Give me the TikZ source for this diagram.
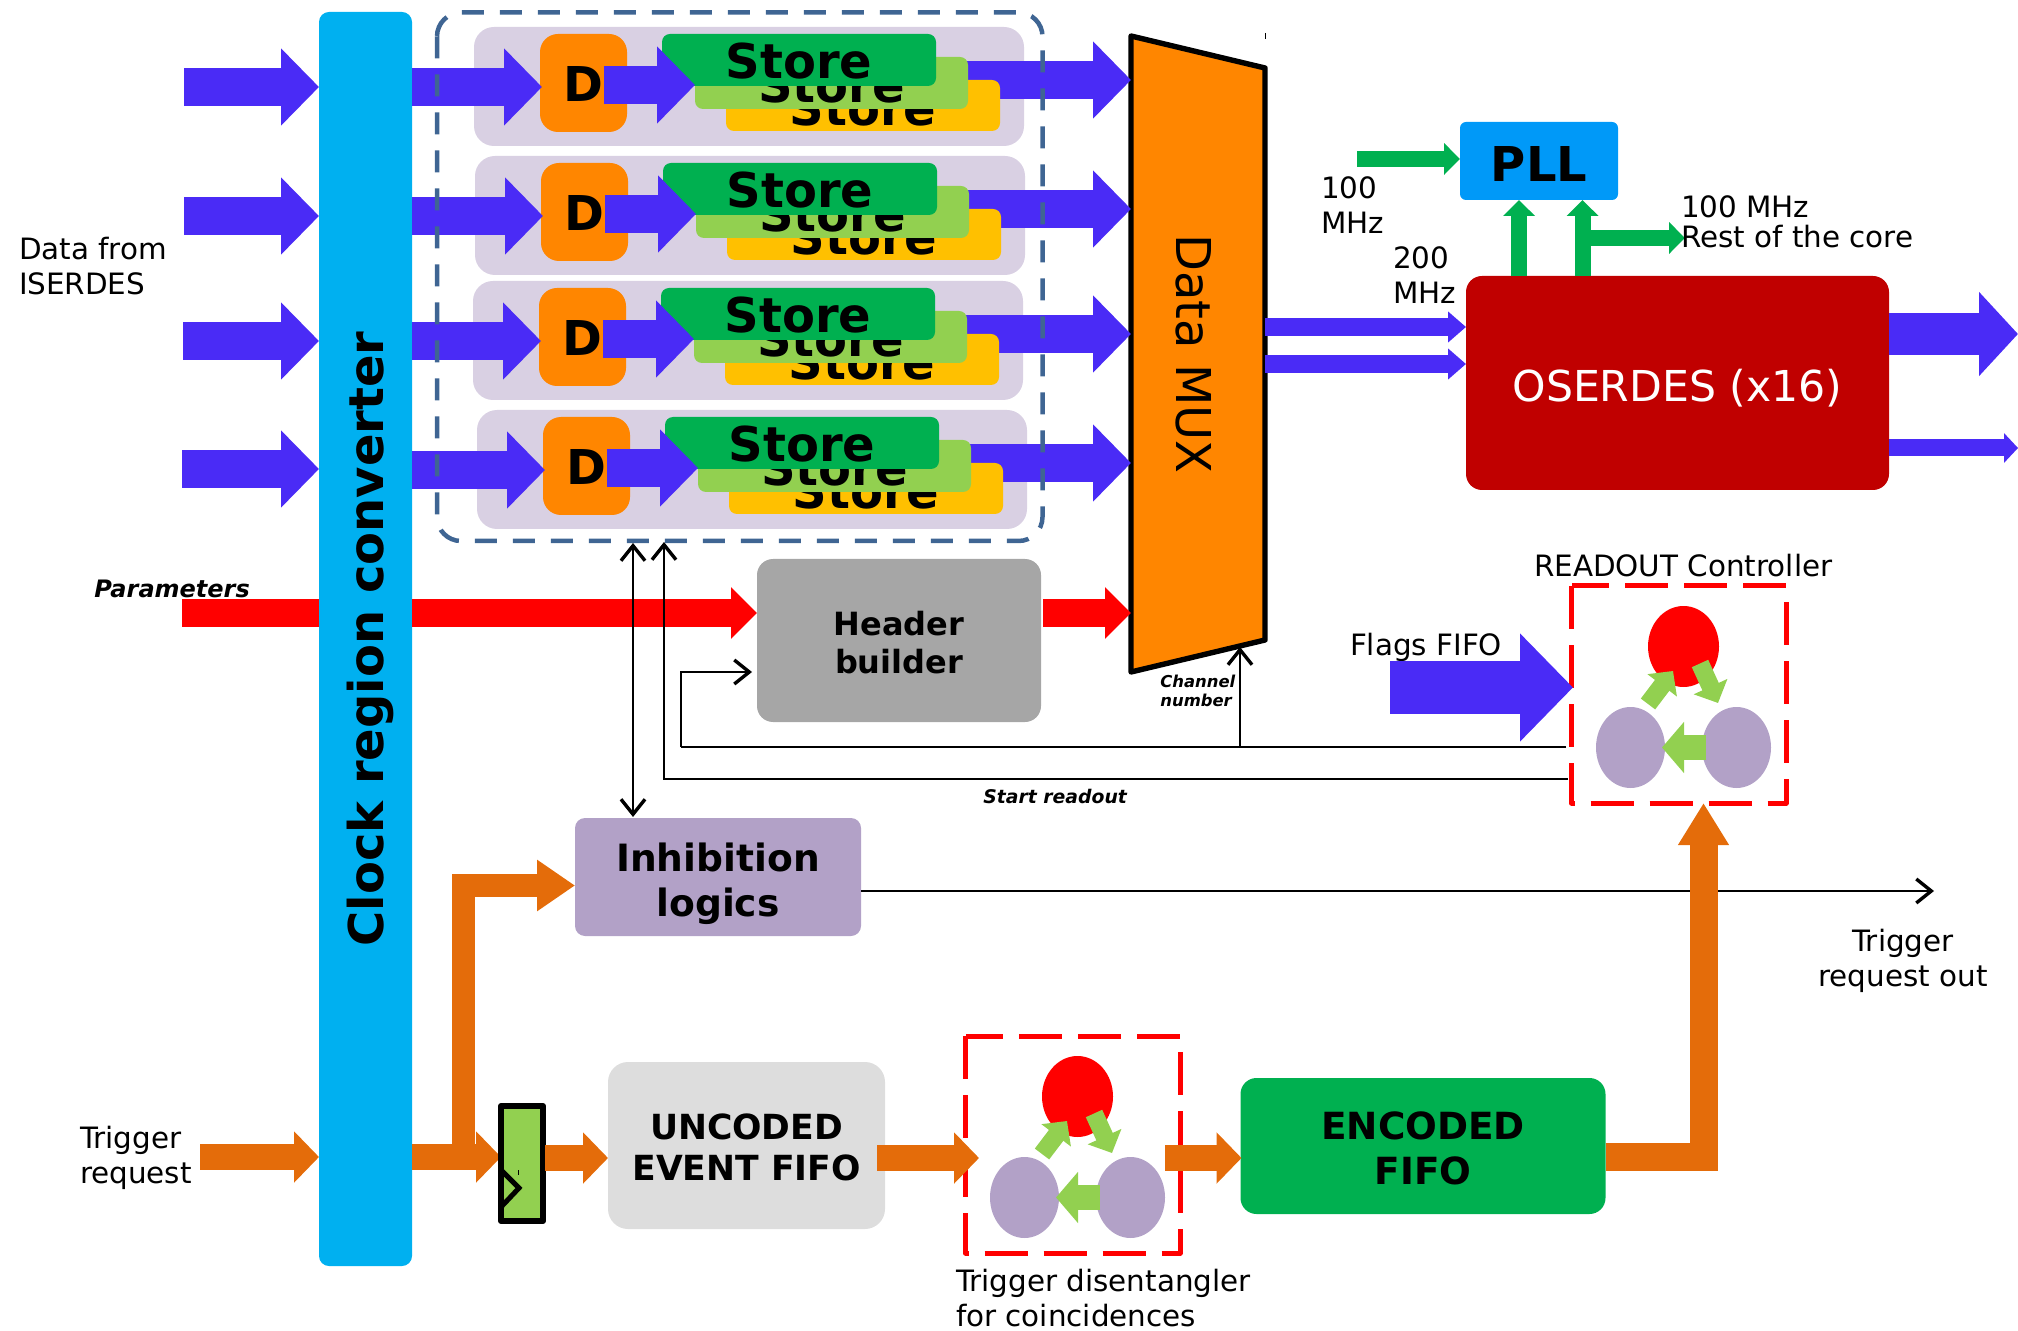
\documentclass[tikz,border=0pt]{standalone}
\usepackage{fontspec}
\usepackage{graphicx}
\setmainfont{DejaVu Sans}
\usetikzlibrary{arrows.meta}
\definecolor{cclk}{HTML}{00B0F0}
\definecolor{clav}{HTML}{D9D0E3}
\definecolor{corg}{HTML}{FF8600}
\definecolor{cgrn}{HTML}{00B050}
\definecolor{clgr}{HTML}{92D050}
\definecolor{cyel}{HTML}{FFC000}
\definecolor{cblu}{HTML}{4A2BF6}
\definecolor{cdash}{HTML}{3F6593}
\definecolor{cgry}{HTML}{A6A6A6}
\definecolor{clgy}{HTML}{DDDDDD}
\definecolor{cpur}{HTML}{B2A1C7}
\definecolor{cdrd}{HTML}{C00000}
\definecolor{cpll}{HTML}{0099F8}
\definecolor{ctan}{HTML}{E46C0A}
\newcommand{\fnt}[2]{\fontsize{#1}{#2}\selectfont}
\tikzset{
  wh/.style 2 args={minimum width=#1*0.5pt,minimum height=#2*0.5pt,inner sep=0pt,outer sep=0pt},
  blk/.style={fill=#1,draw=none},
  storebox/.style={blk=#1,rounded corners=4pt,font=\bfseries\fnt{24}{28}},
  lab/.style={inner sep=0pt,outer sep=0pt,align=left,font=\fnt{14.7}{17.5}},
  fatblue/.style={draw=cblu,line width=19pt,-{Triangle[length=19pt,width=37.5pt]}},
  midblue/.style={draw=cblu,line width=9pt,-{Triangle[length=9pt,width=15pt]}},
  flagblue/.style={draw=cblu,line width=26.5pt,-{Triangle[length=26.5pt,width=52.5pt]}},
  outblue/.style={draw=cblu,line width=21pt,-{Triangle[length=19.5pt,width=41pt]}},
  outsmall/.style={draw=cblu,line width=8.5pt,-{Triangle[length=7pt,width=14.5pt]}},
  redarrow/.style={draw=red,line width=13.5pt,-{Triangle[length=13pt,width=25pt]}},
  orarrow/.style={draw=ctan,line width=13pt,-{Triangle[length=12.5pt,width=25pt]}},
  orbend/.style={draw=ctan,line width=11.5pt,-{Triangle[length=19pt,width=24.5pt]}},
  ortall/.style={draw=ctan,line width=14pt,-{Triangle[length=21pt,width=24pt]}},
  grarrow/.style={draw=cgrn,line width=8pt,-{Triangle[length=8pt,width=15.5pt]}},
  fsmshort/.style={draw=clgr,line width=9pt,-{Triangle[length=9pt,width=18pt]}},
  fsmlong/.style={draw=clgr,line width=12.5pt,-{Triangle[length=11pt,width=25pt]}},
  thin/.style={draw=black,line width=1pt,-{Straight Barb[length=7.5pt,width=12pt,line width=1.7pt]}},
  thinboth/.style={draw=black,line width=1pt,{Straight Barb[length=7.5pt,width=12pt,line width=1.7pt]}-{Straight Barb[length=7.5pt,width=12pt,line width=1.7pt]}},
  thinline/.style={draw=black,line width=1pt},
  reddash/.style={draw=red,line width=2.5pt,dash pattern=on 21.5pt off 8pt,line join=round},
}
\newcommand{\storerow}[3]{%
  \begin{scope}[shift={(#2,#3)}]
    \node[wh={550}{119},blk=clav,rounded corners=10pt] (lav#1) at (749,86.5) {};
    \node[wh={87}{98},blk=corg,rounded corners=9pt,font=\bfseries\fnt{24}{28},text height=18.8pt,text depth=0pt] (d#1) at (583.5,83) {D};
    \draw[fatblue,shorten >=-1pt] (clk.east |- 0,87) -- (d#1.west |- 0,87);
    \coordinate (ds#1) at (604,85);
    \coordinate (de#1) at (695,85);
    \coordinate (ss#1) at (960,80);
    \draw[fatblue] (ss#1) -- (mux.west |- 0,80);
    \node[wh={274}{51},storebox=cyel,text height=20.5pt,text depth=0pt] (sy#1) at (863,105.5) {Store};
    \node[wh={273}{52},storebox=clgr,text height=20pt,text depth=0pt] (sl#1) at (831.5,83) {Store};
    \node[wh={274}{52},storebox=cgrn,text height=18.8pt,text depth=0pt] (sg#1) at (799,60) {Store};
    \draw[fatblue] (ds#1) -- (de#1);
  \end{scope}}
\newcommand{\fsmgroup}[2]{%
  \begin{scope}[shift={(#1,#2)}]
    \draw[reddash] (1571.5,586) rectangle (1786,803);
    \fill[red] (1683.5,646.5) ellipse [x radius=35.5,y radius=40.5];
    \fill[cpur] (1630.5,747.5) ellipse [x radius=34.5,y radius=40.5];
    \fill[cpur] (1736.5,747.5) ellipse [x radius=34.5,y radius=40.5];
    \draw[fsmshort] (1648,704) -- (1673,671);
    \draw[fsmshort] (1700,663.5) -- (1718,703);
    \draw[fsmlong] (1706,747.5) -- (1662,747.5);
  \end{scope}}
\begin{document}
\begin{tikzpicture}[x=0.5pt,y=-0.5pt]
\useasboundingbox (0,0) rectangle (2018,1331);

% red parameter line sits behind the clock bar
\coordinate (parin) at (182,613);
\draw[draw=red,line width=13.5pt] (parin) -- (370,613);

% clock converter and mux must exist before the rows
\node[wh={93}{1254},blk=cclk,rounded corners=5pt,font=\bfseries\fnt{24}{30}] (clk) at (365.5,639) {\rotatebox{90}{\rule{0pt}{23.5pt}Clock region converter}};
\fill[corg] (1131,36) -- (1265,68) -- (1265,640) -- (1131,672) -- cycle;
\node[wh={134}{636},font=\fnt{24}{28}] (mux) at (1198,354) {\rotatebox{-90}{\rule{0pt}{21.4pt}Data MUX}};
\draw[black,line width=2.7pt,line join=round] (1131,36) -- (1265,68) -- (1265,640) -- (1131,672) -- cycle;
\draw[black,line width=0.4pt] (1265.5,33) -- (1265.5,39);

% inputs
\coordinate (in1) at (184,87);
\coordinate (in2) at (184,216);
\coordinate (in3) at (183,341);
\coordinate (in4) at (182,469);
\draw[fatblue] (in1) -- (clk.west |- in1);
\draw[fatblue] (in2) -- (clk.west |- in2);
\draw[fatblue] (in3) -- (clk.west |- in3);
\draw[fatblue] (in4) -- (clk.west |- in4);

\storerow{1}{0}{0}
\storerow{2}{1}{129}
\storerow{3}{-1}{254}
\storerow{4}{3}{383}

\draw[draw=cdash,line width=2.25pt,dash pattern=on 11pt off 8pt,rounded corners=12pt] (437,12.5) rectangle (1042.5,541);

\node[anchor=base west,inner sep=0pt,font=\bfseries\itshape\fnt{12}{14}] (param) at (94,597) {Parameters};
\node[lab,anchor=west] (isd) at (19,266.5) {Data from\\ISERDES};

% header
\node[wh={284}{163},blk=cgry,rounded corners=8pt,align=center,font=\bfseries\fnt{16}{19.3}] (header) at (899,640.5) {\rule{0pt}{14.2pt}Header\\builder};
\draw[redarrow] (clk.east |- parin) -- (header.west |- parin);
\coordinate (hout) at (1043,613);
\draw[redarrow] (hout) -- (mux.west |- hout);

% PLL and OSERDES
\node[wh={158}{78},blk=cpll,rounded corners=3pt,font=\bfseries\fnt{24}{28},text height=20.1pt,text depth=0pt] (pll) at (1539,161) {PLL};
\node[wh={423}{214},blk=cdrd,rounded corners=8pt,text=white,font=\fnt{21.3}{25},text height=21.4pt,text depth=2.8pt] (oser) at (1677.5,383) {OSERDES (x16)};
\coordinate (ckin) at (1357,159);
\draw[grarrow] (ckin) -- (pll.west |- ckin);
\coordinate (cka) at (1519,276);
\coordinate (ckb) at (1582.5,276);
\draw[grarrow] (cka) -- (cka |- pll.south);
\draw[grarrow] (ckb) -- (ckb |- pll.south);
\coordinate (ckc) at (1582.5,238);
\coordinate (ckd) at (1685,238);
\draw[grarrow] (ckc) -- (ckd);
\node[lab,anchor=west] (l100) at (1321,205) {100\\MHz};
\node[lab,anchor=west] (l200) at (1393,275) {200\\MHz};
\node[lab,anchor=west,font=\fnt{14.7}{15}] (lrest) at (1681,221.5) {100 MHz\\Rest of the core};
\coordinate (mo1) at (1265,327);
\coordinate (mo2) at (1265,364);
\draw[midblue] (mo1) -- (oser.west |- mo1);
\draw[midblue] (mo2) -- (oser.west |- mo2);
\coordinate (ot1) at (2018,334);
\coordinate (ot2) at (2018,448);
\draw[outblue] (oser.east |- ot1) -- (ot1);
\draw[outsmall] (oser.east |- ot2) -- (ot2);

% readout
\fsmgroup{0}{0}
\node[anchor=base west,lab] (lread) at (1534,577) {READOUT Controller};
\node[anchor=base west,lab] (lflag) at (1350,655) {Flags FIFO};
\coordinate (flag) at (1390,687.5);
\coordinate (flagend) at (1573,687.5);
\draw[flagblue] (flag) -- (flagend);

% control lines
\coordinate (ctrlb) at (1566,747);
\coordinate (startb) at (1568,779);
\coordinate (chtip) at (1240,647);
\coordinate (htip) at (752,672);
\coordinate (htap) at (681,747);
\coordinate (dbltop) at (633,543);
\coordinate (reatip) at (664,542);
\node[wh={286}{118},blk=cpur,rounded corners=5pt,align=center,font=\bfseries\fnt{18.8}{22.5}] (inh) at (718,877) {\rule{0pt}{20.7pt}Inhibition\\logics};
\coordinate (dblbot) at (633,817);
\draw[thinboth] (dbltop) -- (dblbot);
\draw[thin] (startb) -| (reatip);
\draw[thinline] (ctrlb) -- (htap);
\draw[thin] (htap) |- (htip);
\draw[thin] (chtip |- ctrlb) -- (chtip);
\node[anchor=base west,inner sep=0pt,font=\bfseries\itshape\fnt{9.4}{12}] (lstart) at (983,803) {Start readout};
\node[anchor=west,inner sep=0pt,align=left,font=\bfseries\itshape\fnt{8.2}{9.5}] (lchan) at (1160,690.5) {Channel\\number};

% trigger out
\coordinate (trout) at (1934,891);
\draw[thin] (inh.east |- trout) -- (trout);
\node[lab,align=center] (ltrout) at (1903,961) {Trigger\\request out};

% trigger in
\coordinate (trin) at (200,1157);
\draw[orarrow] (trin) -- (clk.west |- trin);
\node[lab,anchor=west] (ltrin) at (80,1158) {Trigger\\request};
\node[wh={42}{115},blk=clgr] (flop) at (522,1163.5) {};
\coordinate (tap) at (463.5,1157);
\draw[orbend] (tap) |- (inh.west |- 0,885.5);
\draw[orarrow] (clk.east |- trin) -- (flop.west |- trin);
\fill[clgr] (501,1106) rectangle (543,1221);
\draw[black,line width=3pt,line join=round] (501,1106) rectangle (543,1221);
\draw[black,line width=2.5pt,line join=miter] (502,1171) -- (519,1188) -- (502,1206);
\draw[black,line width=0.4pt] (518,1170) -- (518,1175);

\node[wh={277}{167},blk=clgy,rounded corners=10pt,align=center,font=\bfseries\fnt{17.3}{20.5}] (unc) at (746.5,1145.5) {\rule{0pt}{14.8pt}UNCODED\\EVENT FIFO};
\coordinate (fout) at (545,1158);
\draw[orarrow] (fout) -- (unc.west |- fout);

\fsmgroup{-606}{450}
\coordinate (uout) at (877,1158);
\coordinate (dis) at (979,1158);
\draw[orarrow] (uout) -- (dis);
\node[lab,anchor=west] (ldis) at (956,1298) {Trigger disentangler\\for coincidences};

\node[wh={365}{136},blk=cgrn,rounded corners=8pt,align=center,font=\bfseries\fnt{18.7}{22.5}] (enc) at (1423,1146) {\rule{0pt}{16.4pt}ENCODED\\FIFO};
\coordinate (dout) at (1165,1158);
\draw[orarrow,shorten >=-0.5pt] (dout) -- (enc.west |- dout);
\coordinate (rtip) at (1703.5,803);
\draw[ortall] (enc.east |- trin) -| (rtip);
\end{tikzpicture}
\end{document}
